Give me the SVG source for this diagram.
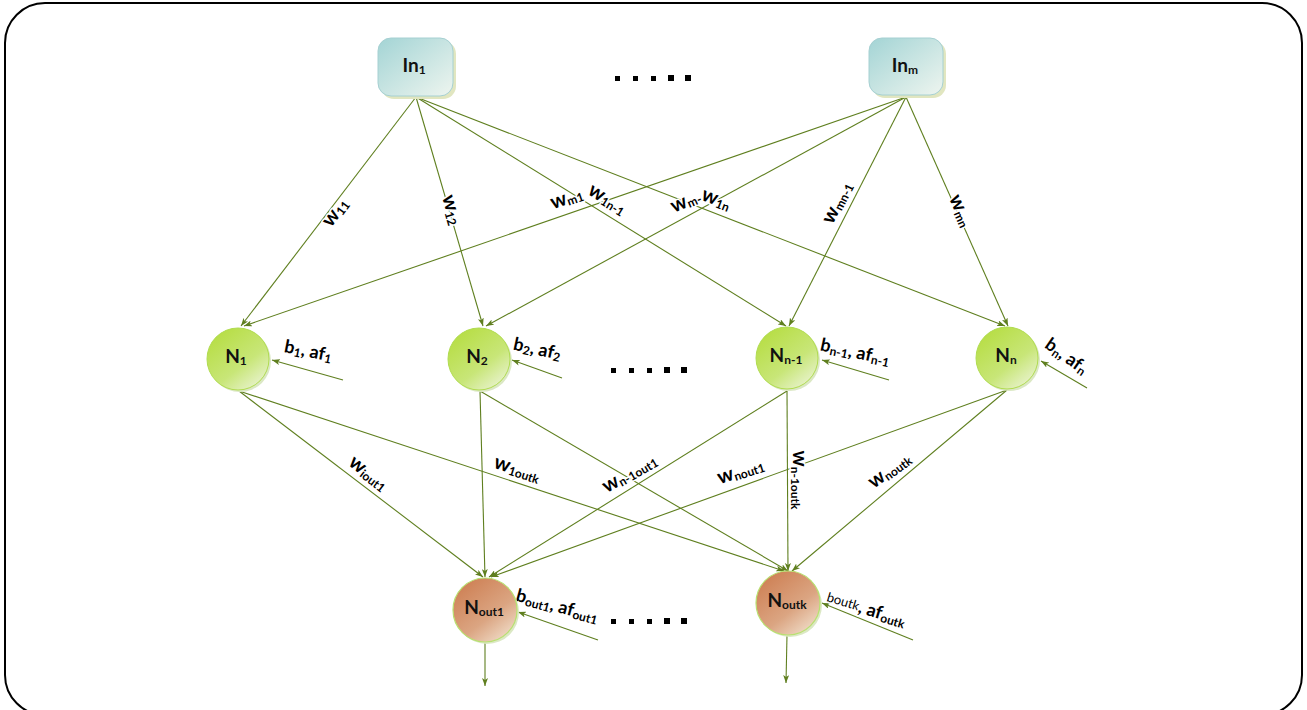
<svg xmlns="http://www.w3.org/2000/svg" width="1307" height="710" viewBox="0 0 1307 710">
<defs>
<style>
.edge{stroke:#5f7f1f;stroke-width:1.1;fill:none;marker-end:url(#arr)}
.lbl{font-family:Lato,"Open Sans","Liberation Sans",sans-serif;font-weight:bold;fill:#000;text-anchor:middle;dominant-baseline:middle;stroke:#fff;stroke-width:3;paint-order:stroke;stroke-linejoin:round}
.w{font-size:20px}
.b{font-size:18px}
.sub{font-size:12px}
.nt{font-family:Lato,"Open Sans","Liberation Sans",sans-serif;font-weight:bold;font-size:19px;fill:#111;text-anchor:middle;dominant-baseline:middle}
.dot{fill:#000}
</style>
<marker id="arr" viewBox="0 0 8 6" refX="8" refY="3" markerWidth="8" markerHeight="6" markerUnits="userSpaceOnUse" orient="auto">
<path d="M0,0 L8,3 L0,6 L2,3 z" fill="#5f7f1f"/>
</marker>
<linearGradient id="gIn" x1="0" y1="0" x2="1" y2="1">
<stop offset="0" stop-color="#a3d4d5"/>
<stop offset="1" stop-color="#eef5ef"/>
</linearGradient>
<linearGradient id="gN" x1="0.2" y1="0.1" x2="0.9" y2="1">
<stop offset="0" stop-color="#b8de48"/>
<stop offset="0.55" stop-color="#c8e678"/>
<stop offset="1" stop-color="#eef5dc"/>
</linearGradient>
<linearGradient id="gO" x1="0.2" y1="0.1" x2="0.9" y2="1">
<stop offset="0" stop-color="#cf8358"/>
<stop offset="0.55" stop-color="#dba582"/>
<stop offset="1" stop-color="#f3e4d2"/>
</linearGradient>
</defs>

<rect x="5" y="3" width="1297" height="712" rx="40" ry="40" fill="#fff" stroke="#000" stroke-width="2"/>

<g id="connectors">
<line class="edge" x1="416" y1="97" x2="241" y2="326"/>
<line class="edge" x1="416" y1="97" x2="483" y2="326"/>
<line class="edge" x1="416" y1="97" x2="786" y2="326"/>
<line class="edge" x1="416" y1="97" x2="1005" y2="326"/>
<line class="edge" x1="906" y1="97" x2="244" y2="326"/>
<line class="edge" x1="906" y1="97" x2="486" y2="326"/>
<line class="edge" x1="906" y1="97" x2="789" y2="326"/>
<line class="edge" x1="906" y1="97" x2="1008" y2="326"/>
<line class="edge" x1="239" y1="391" x2="483" y2="577"/>
<line class="edge" x1="239" y1="391" x2="784" y2="571"/>
<line class="edge" x1="480" y1="391" x2="485" y2="577"/>
<line class="edge" x1="480" y1="391" x2="788" y2="571"/>
<line class="edge" x1="787" y1="391" x2="489" y2="577"/>
<line class="edge" x1="787" y1="391" x2="788" y2="571"/>
<line class="edge" x1="1007" y1="390" x2="491" y2="577"/>
<line class="edge" x1="1007" y1="390" x2="792" y2="571"/>
<line class="edge" x1="343" y1="380" x2="272" y2="360"/>
<line class="edge" x1="562" y1="378" x2="512" y2="360"/>
<line class="edge" x1="889" y1="380" x2="822" y2="360"/>
<line class="edge" x1="1087" y1="388" x2="1041" y2="361"/>
<line class="edge" x1="598" y1="640" x2="518" y2="612"/>
<line class="edge" x1="913" y1="640" x2="822" y2="603"/>
<line class="edge" x1="485" y1="642" x2="485" y2="686"/>
<line class="edge" x1="787" y1="635" x2="786" y2="683"/>
</g>

<g id="weight-labels">
<text class="lbl w" transform="translate(336,213) rotate(-53)">w<tspan class="sub" dy="4">11</tspan></text>
<text class="lbl w" transform="translate(451,210) rotate(74)">w<tspan class="sub" dy="4">12</tspan></text>
<text class="lbl w" transform="translate(567,199) rotate(-19)">w<tspan class="sub" dy="4">m1</tspan></text>
<text class="lbl w" transform="translate(607,200) rotate(32)">w<tspan class="sub" dy="4">1n-1</tspan></text>
<text class="lbl w" transform="translate(686,202) rotate(-24)">w<tspan class="sub" dy="4">m-</tspan></text>
<text class="lbl w" transform="translate(716,200) rotate(21)">w<tspan class="sub" dy="4">1n</tspan></text>
<text class="lbl w" transform="translate(838,203) rotate(-63)">w<tspan class="sub" dy="4">mn-1</tspan></text>
<text class="lbl w" transform="translate(960,211) rotate(66)">w<tspan class="sub" dy="4">mn</tspan></text>
<text class="lbl w" transform="translate(368,474) rotate(38)">w<tspan class="sub" dy="4">iout1</tspan></text>
<text class="lbl w" transform="translate(517,470) rotate(18)">w<tspan class="sub" dy="4">1outk</tspan></text>
<text class="lbl w" transform="translate(630,474) rotate(-30)">w<tspan class="sub" dy="4">n-1out1</tspan></text>
<text class="lbl w" transform="translate(741,472) rotate(-18)">w<tspan class="sub" dy="4">nout1</tspan></text>
<text class="lbl w" transform="translate(798,480) rotate(90)">w<tspan class="sub" dy="4">n-1outk</tspan></text>
<text class="lbl w" transform="translate(890,471) rotate(-36)">w<tspan class="sub" dy="4">noutk</tspan></text>
</g>

<g id="bias-labels">
<text class="lbl b" transform="translate(308,352) rotate(11)">b<tspan class="sub" dy="4">1</tspan><tspan dy="-4">, af</tspan><tspan class="sub" dy="4">1</tspan></text>
<text class="lbl b" transform="translate(537,350) rotate(12)">b<tspan class="sub" dy="4">2</tspan><tspan dy="-4">, af</tspan><tspan class="sub" dy="4">2</tspan></text>
<text class="lbl b" transform="translate(855,353) rotate(12)">b<tspan class="sub" dy="4">n-1</tspan><tspan dy="-4">, af</tspan><tspan class="sub" dy="4">n-1</tspan></text>
<text class="lbl b" transform="translate(1066,357) rotate(35)">b<tspan class="sub" dy="4">n</tspan><tspan dy="-4">, af</tspan><tspan class="sub" dy="4">n</tspan></text>
<text class="lbl b" transform="translate(557,607) rotate(15)">b<tspan class="sub" dy="4">out1</tspan><tspan dy="-4">, af</tspan><tspan class="sub" dy="4">out1</tspan></text>
<text class="lbl b" transform="translate(866,610) rotate(17)"><tspan font-size="13" font-weight="normal">boutk</tspan>, af<tspan class="sub" dy="4">outk</tspan></text>
</g>

<g id="dots-top">
<rect class="dot" x="615" y="76" width="5" height="5"/><rect class="dot" x="633" y="76" width="5" height="5"/><rect class="dot" x="651" y="76" width="5" height="5"/><rect class="dot" x="668" y="75" width="6" height="6"/><rect class="dot" x="685" y="75" width="6" height="6"/>
</g>
<g id="dots-mid">
<rect class="dot" x="611" y="368" width="5" height="5"/><rect class="dot" x="629" y="368" width="5" height="5"/><rect class="dot" x="647" y="368" width="5" height="5"/><rect class="dot" x="664" y="367" width="6" height="6"/><rect class="dot" x="681" y="367" width="6" height="6"/>
</g>
<g id="dots-bot">
<rect class="dot" x="611" y="619" width="5" height="5"/><rect class="dot" x="629" y="619" width="5" height="5"/><rect class="dot" x="647" y="619" width="5" height="5"/><rect class="dot" x="664" y="618" width="6" height="6"/><rect class="dot" x="681" y="618" width="6" height="6"/>
</g>

<g id="in1">
<rect x="381" y="41" width="75" height="58" rx="13" fill="#e1e6c0"/>
<rect x="378" y="38" width="75" height="58" rx="13" fill="url(#gIn)" stroke="#a6d0d2" stroke-width="1"/>
<text class="nt" x="414" y="67">In<tspan class="sub" dy="4">1</tspan></text>
</g>
<g id="inm">
<rect x="872" y="41" width="74" height="57" rx="13" fill="#e1e6c0"/>
<rect x="869" y="38" width="74" height="57" rx="13" fill="url(#gIn)" stroke="#a6d0d2" stroke-width="1"/>
<text class="nt" x="905" y="67">In<tspan class="sub" dy="4">m</tspan></text>
</g>

<g id="n1">
<circle cx="240" cy="361" r="31" fill="#dbe8c4"/>
<circle cx="238" cy="359" r="31" fill="url(#gN)" stroke="#b0dc50" stroke-width="1"/>
<text class="nt" x="236" y="358">N<tspan class="sub" dy="4">1</tspan></text>
</g>
<g id="n2">
<circle cx="481" cy="361" r="31" fill="#dbe8c4"/>
<circle cx="479" cy="359" r="31" fill="url(#gN)" stroke="#b0dc50" stroke-width="1"/>
<text class="nt" x="477" y="358">N<tspan class="sub" dy="4">2</tspan></text>
</g>
<g id="nn1">
<circle cx="789" cy="360" r="31" fill="#dbe8c4"/>
<circle cx="787" cy="358" r="31" fill="url(#gN)" stroke="#b0dc50" stroke-width="1"/>
<text class="nt" x="786" y="357">N<tspan class="sub" dy="4">n-1</tspan></text>
</g>
<g id="nn">
<circle cx="1009" cy="360" r="31" fill="#dbe8c4"/>
<circle cx="1007" cy="358" r="31" fill="url(#gN)" stroke="#b0dc50" stroke-width="1"/>
<text class="nt" x="1006" y="357">N<tspan class="sub" dy="4">n</tspan></text>
</g>
<g id="nout1">
<circle cx="487" cy="612" r="32" fill="#dbe8c4"/>
<circle cx="485" cy="610" r="32" fill="url(#gO)" stroke="#b8e070" stroke-width="1.2"/>
<text class="nt" x="484" y="609">N<tspan class="sub" dy="4">out1</tspan></text>
</g>
<g id="noutk">
<circle cx="790" cy="605" r="32" fill="#dbe8c4"/>
<circle cx="788" cy="603" r="32" fill="url(#gO)" stroke="#b8e070" stroke-width="1.2"/>
<text class="nt" x="787" y="602">N<tspan class="sub" dy="4">outk</tspan></text>
</g>
</svg>
